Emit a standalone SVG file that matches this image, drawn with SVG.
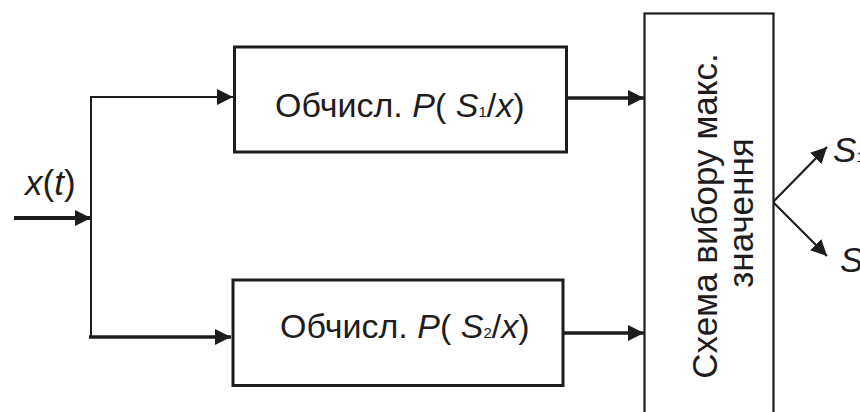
<svg xmlns="http://www.w3.org/2000/svg" width="860" height="412" viewBox="0 0 860 412">
<defs>
<marker id="ah" viewBox="0 0 16 16" refX="16" refY="8" markerWidth="16" markerHeight="16" markerUnits="userSpaceOnUse" orient="auto">
<path d="M0,0 L16,8 L0,16 Z" fill="#1e1c1c"/>
</marker>
</defs>
<style>
text{font-family:"Liberation Sans",Arial,sans-serif;font-size:35px;fill:#1e1c1c}
.b{font-size:34px}
.i{font-style:italic}
.box{fill:#fff;stroke:#1e1c1c}
.c{fill:none;stroke:#1e1c1c;stroke-linejoin:miter}
</style>
<rect width="860" height="412" fill="#fff"/>
<g id="connectors">
<path class="c" d="M14,218 H91" stroke-width="4" marker-end="url(#ah)"/>
<path class="c" d="M91,218 V97 H233" stroke-width="2" marker-end="url(#ah)"/>
<path class="c" d="M91,218 V337" stroke-width="2"/>
<path class="c" d="M89,337 H231" stroke-width="3.5" marker-end="url(#ah)"/>
<path class="c" d="M567,98 H644" stroke-width="3.5" marker-end="url(#ah)"/>
<path class="c" d="M564,333 H644" stroke-width="3.5" marker-end="url(#ah)"/>
<path class="c" d="M773,202 L827,147" stroke-width="2.2" marker-end="url(#ah)"/>
<path class="c" d="M773,202 L827,256" stroke-width="2.2" marker-end="url(#ah)"/>
</g>
<g id="input-label">
<text x="25" y="195"><tspan class="i">x</tspan>(<tspan class="i">t</tspan>)</text>
</g>
<g id="node-p1">
<rect class="box" x="234.5" y="47" width="332" height="105" stroke-width="3"/>
<text class="b" x="275" y="117">Обчисл. <tspan class="i">P</tspan>( <tspan class="i">S</tspan><tspan font-size="15">1</tspan>/<tspan class="i">x</tspan>)</text>
</g>
<g id="node-p2">
<rect class="box" x="233" y="280" width="330" height="105.5" stroke-width="3"/>
<text class="b" x="280" y="338">Обчисл. <tspan class="i">P</tspan>( <tspan class="i">S</tspan><tspan font-size="15">2</tspan>/<tspan class="i">x</tspan>)</text>
</g>
<g id="node-max">
<rect class="box" x="644.5" y="13.5" width="129" height="410" stroke-width="2.2"/>
<text transform="translate(717,216) rotate(-90)" text-anchor="middle">Схема вибору макс.</text>
<text transform="translate(753,213) rotate(-90)" text-anchor="middle">значення</text>
</g>
<g id="output-labels">
<text x="833" y="162"><tspan class="i">S</tspan><tspan font-size="15">1</tspan><tspan font-size="15" dy="-16">/</tspan></text>
<text x="840" y="272"><tspan class="i">S</tspan><tspan font-size="15">2</tspan></text>
</g>
</svg>
